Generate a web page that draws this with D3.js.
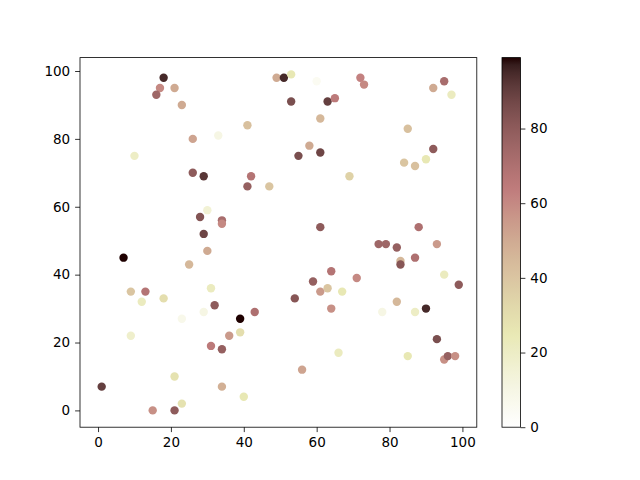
<!DOCTYPE html>
<html>
<head>
<meta charset="utf-8">
<script src="https://cdn.jsdelivr.net/npm/d3@7"></script>
<style>
body { margin: 0; background: #fff; }
text { font-family: "DejaVu Sans", sans-serif; font-size: 13px; fill: #000; }
</style>
</head>
<body>
<svg id="chart"></svg>
<script>
// Dimensions
var w = 640;
var h = 480;

// scatter points: x, y and colour value
var xs = [18, 17, 16, 21, 23, 26, 10, 33, 0, 26, 29, 30, 28, 29, 34, 34, 30, 25, 7, 9,
          13, 12, 18, 9, 31, 32, 23, 29, 1, 21, 15, 21, 23, 31, 34, 36, 34, 40, 39, 39,
          43, 41, 42, 41, 47, 49, 51, 53, 60, 53, 63, 65, 61, 58, 55, 61, 69, 61, 59, 61,
          64, 63, 67, 54, 64, 56, 66, 71, 72, 73, 95, 92, 97, 85, 92, 84, 87, 90, 88, 77,
          79, 82, 83, 83, 87, 93, 95, 99, 78, 82, 87, 90, 93, 85, 95, 96, 98];
var ys = [98, 95, 93, 95, 90, 80, 75, 81, 63, 70, 69, 59, 57, 52, 56, 55, 47, 43, 45, 35,
          35, 32, 33, 22, 36, 31, 27, 29, 7, 10, 0, 0, 2, 19, 18, 22, 7, 4, 23, 27,
          29, 66, 69, 84, 66, 98, 98, 99, 97, 91, 91, 92, 86, 78, 75, 76, 69, 54, 38, 35,
          41, 36, 35, 33, 30, 12, 17, 39, 98, 96, 97, 95, 93, 83, 77, 73, 72, 74, 54, 49,
          49, 48, 44, 43, 45, 49, 40, 37, 29, 32, 29, 30, 21, 16, 15, 16, 16];
var cs = [95, 60, 75, 50, 50, 52, 20, 10, 0, 80, 92, 15, 83, 88, 72, 60, 50, 45, 99, 40,
          68, 22, 30, 18, 22, 80, 8, 10, 90, 28, 58, 80, 28, 65, 78, 55, 48, 25, 30, 99,
          70, 78, 68, 42, 40, 50, 95, 25, 5, 85, 90, 65, 45, 50, 85, 88, 35, 80, 78, 55,
          68, 40, 25, 82, 58, 52, 22, 60, 62, 60, 72, 50, 22, 42, 80, 40, 42, 25, 70, 75,
          75, 78, 45, 82, 70, 55, 22, 80, 10, 45, 20, 95, 85, 25, 58, 78, 58];
var xTicks = [0, 20, 40, 60, 80, 100];
var yTicks = [0, 20, 40, 60, 80, 100];
var cTicks = [0, 20, 40, 60, 80];

var points = xs.map(function (d, i) { return { x: d, y: ys[i], c: cs[i] }; });

// "pink" lookup table: sqrt((2*gray + hot)/3) over 64 steps, then reversed
var pinkStops = d3.range(64).map(function (i) {
    var g = i / 63;
    var hr = Math.min(1, (i + 1) / 24);
    var hg = i < 24 ? 0 : Math.min(1, (i - 23) / 24);
    var hb = i < 48 ? 0 : (i - 47) / 16;
    var f = function (hv) { return Math.round(255 * Math.sqrt((2 * g + hv) / 3)); };
    return "rgb(" + f(hr) + "," + f(hg) + "," + f(hb) + ")";
});
var pinkLut = d3.scaleLinear()
    .domain(d3.range(64).map(function (i) { return i / 63; }))
    .range(pinkStops)
    .interpolate(d3.interpolateRgb);
function pinkR(v) { return pinkLut(1 - v); }

var cMin = d3.min(cs), cMax = d3.max(cs);
var colorScale = d3.scaleSequential(pinkR).domain([cMin, cMax]);

var pLeft = 80, pRight = 476.8, pTop = 57.6, pBottom = 427.2;
var xPad = (d3.max(xs) - d3.min(xs)) * 0.05;
var yPad = (d3.max(ys) - d3.min(ys)) * 0.05;
var x = d3.scaleLinear().domain([d3.min(xs) - xPad, d3.max(xs) + xPad]).range([pLeft, pRight]);
var y = d3.scaleLinear().domain([d3.min(ys) - yPad, d3.max(ys) + yPad]).range([pBottom, pTop]);

var svg = d3.select("#chart").attr("width", w).attr("height", h);

// points
svg.append("g")
    .selectAll("circle")
    .data(points)
    .enter()
    .append("circle")
    .attr("cx", function (d) { return x(d.x); })
    .attr("cy", function (d) { return y(d.y); })
    .attr("r", 4.2)
    .style("fill", function (d) { return colorScale(d.c); });

// axes
var xAxis = svg.append("g")
    .attr("transform", "translate(0," + pBottom + ")")
    .call(d3.axisBottom(x).tickValues(xTicks).tickSize(4.9).tickPadding(4.9));
var yAxis = svg.append("g")
    .attr("transform", "translate(" + pLeft + ",0)")
    .call(d3.axisLeft(y).tickValues(yTicks).tickSize(4.9).tickPadding(4.9));

svg.append("rect")
    .attr("x", pLeft).attr("y", pTop)
    .attr("width", pRight - pLeft).attr("height", pBottom - pTop)
    .style("fill", "none").style("stroke", "#000").style("stroke-width", 0.8);

// colorbar
var cbLeft = 502, cbRight = 520.5;
var cScale = d3.scaleLinear().domain([cMin, cMax]).range([pBottom, pTop]);
var defs = svg.append("defs");
var grad = defs.append("linearGradient")
    .attr("id", "cbar")
    .attr("x1", 0).attr("y1", 1).attr("x2", 0).attr("y2", 0);
d3.range(0, 1.0001, 0.02).forEach(function (s) {
    grad.append("stop")
        .attr("offset", s)
        .attr("stop-color", colorScale(cMin + s * (cMax - cMin)));
});
svg.append("rect")
    .attr("x", cbLeft).attr("y", pTop)
    .attr("width", cbRight - cbLeft).attr("height", pBottom - pTop)
    .style("fill", "url(#cbar)")
    .style("stroke", "#000").style("stroke-width", 0.8);

var cAxis = svg.append("g")
    .attr("transform", "translate(" + cbRight + ",0)")
    .call(d3.axisRight(cScale).tickValues(cTicks).tickSize(4.9).tickPadding(4.9));

[xAxis, yAxis, cAxis].forEach(function (a) {
    a.select(".domain").remove();
    a.selectAll("line").style("stroke-width", 0.8);
    a.selectAll("text").style("font-size", "13.5px").style("font-family", "DejaVu Sans, sans-serif");
});
</script>
</body>
</html>
